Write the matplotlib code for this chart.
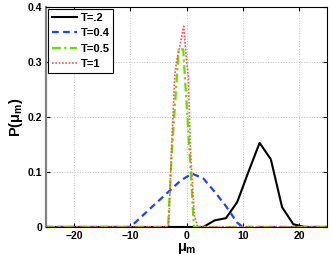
import numpy as np
import matplotlib
matplotlib.use("Agg")
import matplotlib.pyplot as plt

plt.rcParams['font.family'] = ['Liberation Sans', 'DejaVu Sans']
plt.rcParams['font.weight'] = 'bold'
plt.rcParams['mathtext.fontset'] = 'custom'
plt.rcParams['mathtext.rm'] = 'Liberation Sans:bold'
plt.rcParams['mathtext.it'] = 'Liberation Sans:bold'

# T=.2
mu_a = [-25, 3, 5, 7, 9, 11, 13, 15, 17, 19, 21, 25]
p_a = [0, 0, 0.012, 0.016, 0.045, 0.1, 0.153, 0.123, 0.036, 0.005, 0, 0]
# T=0.4
mu_b = [-25, -10, -6, -3, -1, 1, 3, 5, 7, 9, 10, 25]
p_b = [0, 0, 0.038, 0.066, 0.085, 0.097, 0.088, 0.064, 0.038, 0.008, 0, 0]
# T=0.5
mu_c = [-25, -3.3, -2.6, -1.4, -0.6, 0.5, 1.3, 25]
p_c = [0, 0, 0.14, 0.323, 0.323, 0.14, 0, 0]
# T=1
mu_d = [-25, -3.2, -2.7, -2.1, -1.8, -0.5, 0, 0.3, 0.7, 1.4, 2, 25]
p_d = [0, 0, 0.14, 0.276, 0.3, 0.365, 0.3, 0.276, 0.137, 0.02, 0, 0]

labels = ['T=.2', 'T=0.4', 'T=0.5', 'T=1']

fig = plt.figure(figsize=(3.32, 2.6), dpi=100)
ax = fig.add_axes([0.139, 0.127, 0.846, 0.846])

ax.plot(mu_a, p_a, color='black', lw=1.5, label=labels[0])
ax.plot(mu_b, p_b, color='#2040ff', lw=1.6, ls=(0, (3, 2)), label=labels[1])
ax.plot(mu_c, p_c, color='#66e000', lw=1.6, ls=(0, (4, 1.5, 1, 1.5)), label=labels[2])
ax.plot(mu_d, p_d, color='#ff5050', lw=1.2, ls=(0, (1, 1)), label=labels[3])

ax.set_xlim(-25, 25)
ax.set_ylim(0, 0.4)
ax.set_xticks([-20, -10, 0, 10, 20])
ax.set_yticks([0, 0.1, 0.2, 0.3, 0.4])
ax.set_yticklabels(['0', '0.1', '0.2', '0.3', '0.4'])
ax.tick_params(direction='in', top=True, right=True, labelsize=7.5, length=3, pad=3)
ax.grid(True, ls=':', color='#c0c0c0', lw=0.7)
ax.spines['left'].set_color('#808080')
ax.spines['left'].set_linewidth(1.6)

ax.set_xlabel(r'$\mu_m$', fontsize=10.5, labelpad=0)
ax.set_ylabel(r'$P(\mu_m)$', fontsize=10.5, labelpad=2)

leg = ax.legend(loc='upper left', fontsize=8, handlelength=2.3, handletextpad=0.3,
                labelspacing=0.5, borderpad=0.3, borderaxespad=0.2, fancybox=False,
                framealpha=1)
leg.get_frame().set_edgecolor('black')
leg.get_frame().set_linewidth(0.8)

fig.savefig('out.png', dpi=100)
